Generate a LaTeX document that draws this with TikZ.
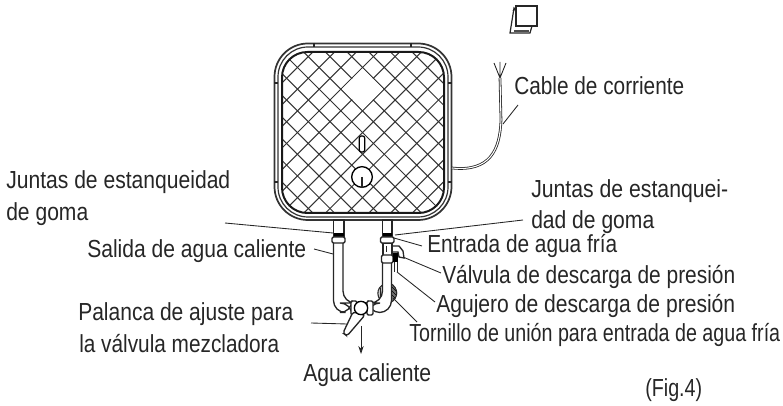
\documentclass[tikz,border=0pt]{standalone}
\usepackage{graphicx}
\usepackage{fontspec}
\setmainfont{Liberation Sans}
\usetikzlibrary{arrows.meta}
\newsavebox{\fitbox}
\newcommand{\fitlab}[2]{\sbox{\fitbox}{#2}\pgfmathsetmacro{\fitr}{#1*0.75/(\wd\fitbox/1pt)}\scalebox{\fitr}[1]{#2}}
\tikzset{
 lab/.style={anchor=base west,inner sep=0pt,font=\fontsize{18.5pt}{20pt}\selectfont,text=black!85},
 lead/.style={draw=black!85,line width=0.65pt},
 ln/.style={draw=black!85,line width=0.9pt},
 thick line/.style={draw=black!90,line width=1.5pt},
 pipe/.style={draw=black!85,line width=1pt,fill=white},
}
\begin{document}
\begin{tikzpicture}[x=0.75pt,y=-0.75pt]
\useasboundingbox (0,0) rectangle (783,406);
% tank
\draw[draw=black!80,line width=1.3pt,fill=white,rounded corners=25] (274.5,43.5) rectangle (451.5,220);
\draw[draw=black!80,line width=0.9pt,rounded corners=22.5] (278,47) rectangle (448,217);
\begin{scope}
\clip[rounded corners=19] (282,52) rectangle (444,213);
\foreach \k in {-12,...,12}{
  \draw[draw=black!80,line width=0.75pt] (270,{116.6+21.7*\k}) -- ++(200,-200);
  \draw[draw=black!80,line width=0.75pt] (270,{40-21.7*\k}) -- ++(200,200);
}
\fill[white] (362.6,68.6) -- (383.2,89.2) -- (362.6,109.8) -- (342,89.2) -- cycle;
\end{scope}
\draw[thick line,rounded corners=19] (282,52) rectangle (444,213);
\draw[ln] (314,43) -- (314,47) (411,43) -- (411,47) (274,83) -- (278,83) (448,83) -- (452,83)
  (274,182) -- (278,182) (448,182) -- (452,182);
% tank marks
\node[draw=black,line width=0.9pt,fill=white,rounded corners=1.5,minimum width=4pt,minimum height=12pt,inner sep=0pt] (slot) at (362,144) {};
\node[draw=black,line width=1pt,fill=white,circle,minimum size=15.5pt,inner sep=0pt] (knob) at (362,177) {};
\draw[ln] (knob.center) -- (knob.south);
% icon
\draw[ln,fill=white] (514,8) -- (510,33) -- (530,33) -- (532,26) -- cycle;
\draw[ln,fill=white] (516,6) rectangle (537,26);
\draw[ln] (513,11) -- (516,8);
\fill[black!70] (514,30) rectangle (529,32);
% cable
\coordinate (cabA) at (452,168);
\coordinate (cabB) at (500,78);
\draw[draw=black!85,line width=2pt] (cabA) .. controls (490,172) and (500,150) .. (501,120) -- (cabB);
\draw[draw=white,line width=0.8pt] (cabA) .. controls (490,172) and (500,150) .. (501,120) -- (cabB);
\draw[lead] (cabB) -- (494,63) (cabB) -- (500,62) (cabB) -- (506,63);
% coil behind
\draw[draw=black!85,line width=0.8pt,fill=black!20] (385,284) .. controls (375,287) and (376,300) .. (385,303) -- cycle;
\draw[draw=black!85,line width=0.5pt] (380,288) -- (380,299);
\draw[draw=black!85,line width=0.8pt,fill=black!55] (390,283) .. controls (399,288) and (399,298) .. (390,303) -- cycle;
\draw[draw=black,line width=0.5pt] (392,287) -- (396,291) (392,291) -- (396,295) (392,295) -- (395,298);
% left pipe
\draw[pipe] (333.5,220) rectangle (344,236);
\fill[black] (333.5,233) rectangle (344,237);
\draw[pipe,rounded corners=9] (333.5,243) -- (333.5,312.5) -- (352,312.5) -- (352,303) -- (343,303) -- (343,243);
\draw[pipe,rounded corners=1] (332,237) rectangle (345,243);
% right pipe
\draw[pipe] (382.5,220) rectangle (392,236);
\fill[black] (382.5,233) rectangle (392,237);
\draw[pipe] (383,243) rectangle (392,256);
\draw[pipe,rounded corners=9] (382.5,262) -- (382.5,303) -- (368,303) -- (368,312.5) -- (391.5,312.5) -- (391.5,262);
\draw[pipe,rounded corners=1] (380.5,237) rectangle (394,243);
\draw[pipe,rounded corners=1] (381.5,255) rectangle (393,263);
% valve pieces
\draw[pipe] (393,246) -- (399,246) -- (403,251) -- (404,258) -- (399,257) -- (398,252) -- (393,252);
\fill[black] (393,253) rectangle (398,262);
\draw[lead] (394,262) -- (394,272) (397,262) -- (397,272);
\draw[lead] (386,246) -- (386,252);
% mixing valve
\draw[pipe] (352,303) rectangle (368,312.5);
\draw[pipe,rounded corners=1] (351,301) rectangle (357,315);
\draw[pipe,rounded corners=1] (367,301) rectangle (373,315);
\draw[pipe,rounded corners=2] (353,312) -- (343,333) -- (347,336) -- (365,315) -- cycle;
\node[draw=black,line width=1pt,fill=white,circle,minimum size=10pt,inner sep=0pt] (vk) at (361,308) {};
\coordinate (outA) at (361,326);
\coordinate (outB) at (361,354);
\draw[lead,-{Stealth[length=6pt,width=4pt]}] (outA) -- (outB);
% labels
\node[lab] (t1) at (6,189) {\fitlab{224}{Juntas de estanqueidad}};
\node[lab] (t2) at (6,221) {\fitlab{82}{de goma}};
\node[lab] (t3) at (531,198) {\fitlab{197}{Juntas de estanquei-}};
\node[lab] (t4) at (531,229) {\fitlab{123}{dad de goma}};
\node[lab] (t5) at (427,253) {\fitlab{190}{Entrada de agua fría}};
\node[lab] (t6) at (87,258) {\fitlab{219}{Salida de agua caliente}};
\node[lab] (t7) at (442,284) {\fitlab{293}{Válvula de descarga de presión}};
\node[lab] (t8) at (436,313) {\fitlab{299}{Agujero de descarga de presión}};
\node[lab] (t9) at (409,342) {\fitlab{371}{Tornillo de unión para entrada de agua fría}};
\node[lab] (t10) at (78,321) {\fitlab{215}{Palanca de ajuste para}};
\node[lab] (t11) at (79,353) {\fitlab{200}{la válvula mezcladora}};
\node[lab] (t12) at (303,382) {\fitlab{128}{Agua caliente}};
\node[lab] (t13) at (645,397) {\fitlab{57}{(Fig.4)}};
\node[lab] (t14) at (514,95) {\fitlab{170}{Cable de corriente}};
% leaders
\foreach \a/\b/\c/\d in {225/223/333/233, 523/220/395/235, 314/249/333/254, 394/238/422/246, 403/257/441/273, 397/272/435/302, 393/298/417/322, 311/323/347/324, 518/105/503/124}{
  \draw[lead] (\a,\b) -- (\c,\d);
}
\end{tikzpicture}
\end{document}
